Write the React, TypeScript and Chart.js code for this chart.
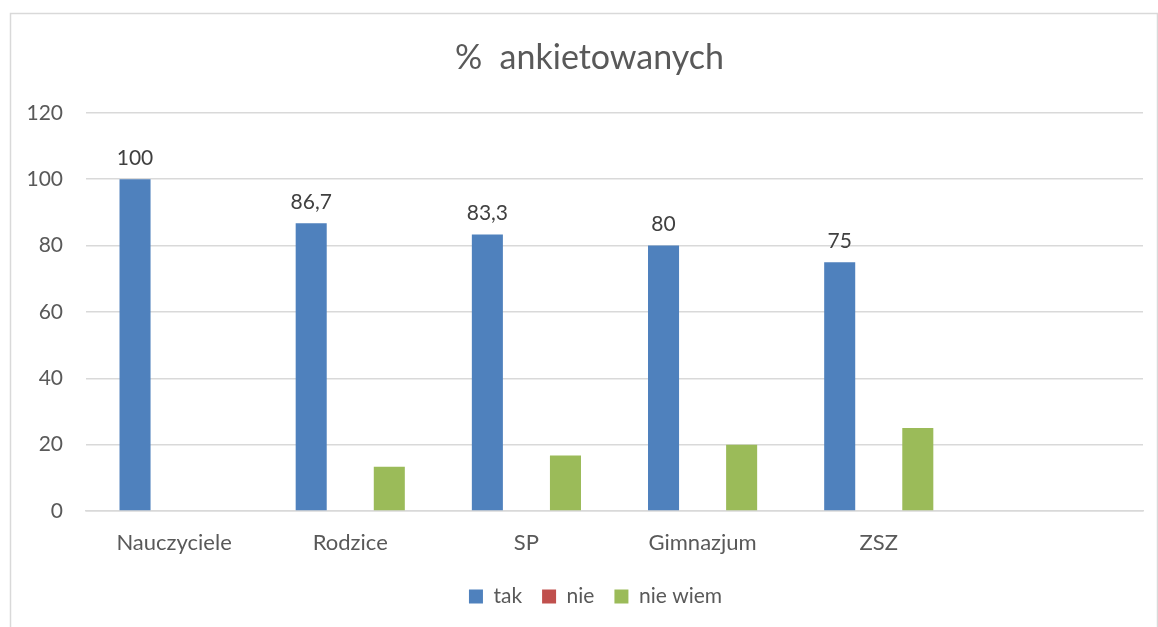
import React, { useEffect, useRef } from "react";
import { Chart, registerables } from "chart.js";

Chart.register(...registerables);

const categories = ["Nauczyciele", "Rodzice", "SP", "Gimnazjum", "ZSZ", ""];
const takValues = [100, 86.7, 83.3, 80, 75, null];
const nieValues = [0, 0, 0, 0, 0, null];
const nieWiemValues = [0, 13.3, 16.7, 20, 25, null];
const yTicks = [0, 20, 40, 60, 80, 100, 120];

const FONT = "Lato, 'Open Sans', sans-serif";

const borderPlugin = {
  id: "outerBorder",
  beforeDraw(chart: any) {
    const ctx = chart.ctx;
    ctx.save();
    ctx.strokeStyle = "#d9d9d9";
    ctx.lineWidth = 1.5;
    ctx.strokeRect(10.5, 13.5, 1147, 700);
    ctx.restore();
  },
};

const shiftPlugin = {
  id: "shiftBlocks",
  afterLayout(chart: any) {
    const t = chart.titleBlock;
    if (t) {
      t.left += 18;
      t.right += 18;
    }
    const l = chart.legend;
    if (l) {
      l.left += 24;
      l.right += 24;
    }
  },
};

const labelPlugin = {
  id: "barLabels",
  afterDatasetsDraw(chart: any) {
    const ctx = chart.ctx;
    const meta = chart.getDatasetMeta(0);
    ctx.save();
    ctx.fillStyle = "#404040";
    ctx.font = `21px ${FONT}`;
    ctx.textAlign = "center";
    ctx.textBaseline = "middle";
    meta.data.forEach((bar: any, i: number) => {
      const v = takValues[i];
      if (v === null || v === undefined) return;
      const txt = String(v).replace(".", ",");
      ctx.fillText(txt, bar.x, bar.y - 21);
    });
    ctx.restore();
  },
};

export default function App() {
  const ref = useRef<HTMLCanvasElement | null>(null);
  useEffect(() => {
    if (!ref.current) return;
    const chart = new Chart(ref.current, {
      type: "bar",
      data: {
        labels: categories,
        datasets: [
          { label: "tak", data: takValues, backgroundColor: "#4F81BD" },
          { label: "nie", data: nieValues, backgroundColor: "#C0504D" },
          { label: "nie wiem", data: nieWiemValues, backgroundColor: "#9BBB59" },
        ],
      },
      options: {
        animation: false,
        responsive: false,
        maintainAspectRatio: false,
        datasets: {
          bar: { categoryPercentage: 0.665, barPercentage: 0.795 },
        },
        layout: { padding: { left: 0, right: 15, top: 0, bottom: 10 } },
        plugins: {
          title: {
            display: true,
            text: "%  ankietowanych",
            color: "#595959",
            font: { family: FONT, size: 34, weight: "normal" },
            padding: { top: 38, bottom: 34 },
          },
          legend: {
            position: "bottom",
            labels: {
              color: "#595959",
              font: { family: FONT, size: 21 },
              boxWidth: 14,
              boxHeight: 14,
              padding: 20,
            },
          },
          tooltip: { enabled: false },
        },
        scales: {
          x: {
            grid: { display: false, drawTicks: false },
            border: { display: true, color: "#d9d9d9", width: 1.5 },
            ticks: {
              color: "#595959",
              font: { family: FONT, size: 22 },
              padding: 19,
              maxRotation: 0,
              autoSkip: false,
            },
            afterFit: (s: any) => {
              s.height = 55;
            },
          },
          y: {
            min: 0,
            max: 120,
            afterBuildTicks: (s: any) => {
              s.ticks = yTicks.map((v) => ({ value: v }));
            },
            grid: { color: "#d9d9d9", lineWidth: 1.5, drawTicks: false },
            border: { display: false },
            ticks: {
              color: "#595959",
              font: { family: FONT, size: 21 },
              padding: 23,
            },
            afterFit: (s: any) => {
              s.width = 86;
            },
          },
        },
      },
      plugins: [borderPlugin, shiftPlugin, labelPlugin],
    });
    return () => chart.destroy();
  }, []);
  return (
    <div style={{ position: "absolute", left: 0, top: 0, width: 1158, height: 627 }}>
      <canvas ref={ref} width={1158} height={627} style={{ display: "block" }} />
    </div>
  );
}
